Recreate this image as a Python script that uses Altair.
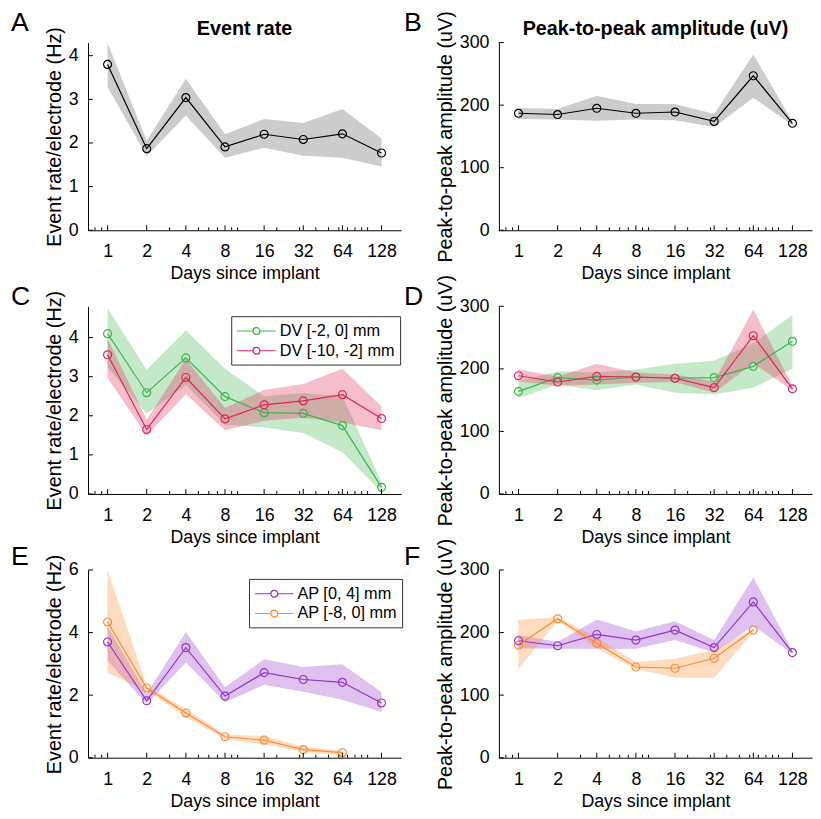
import altair as alt
import pandas as pd

FONT = "Liberation Sans"
W, H = 317, 190
XDOM = [2 ** -0.5, 2 ** 7.5]

days = [1, 2, 4, 8, 16, 32, 64, 128]
major_ticks = [1, 2, 4, 8, 16, 32, 64, 128]
minor_ticks = [0.8, 0.9, 3, 5, 6, 7, 9, 10, 20, 30, 40, 50, 60, 70, 80, 90, 100]

# Panel A: event rate, all electrodes
a_mean = [3.80, 1.87, 3.04, 1.91, 2.20, 2.08, 2.21, 1.77]
a_lo = [3.28, 1.70, 2.63, 1.66, 1.89, 1.71, 1.66, 1.46]
a_hi = [4.29, 2.05, 3.47, 2.20, 2.55, 2.46, 2.78, 2.10]

# Panel B: peak-to-peak amplitude, all electrodes
b_mean = [187, 185, 195, 187, 189, 174, 247, 171]
b_lo = [178, 177, 175, 177, 176, 165, 212, 168]
b_hi = [196, 194, 215, 202, 202, 186, 281, 174]

# Panel C: event rate by DV
dv_names = ["DV [-2, 0] mm", "DV [-10, -2] mm"]
dv_colors = ["#3db54a", "#e0245a"]
c1_mean = [4.10, 2.59, 3.48, 2.49, 2.08, 2.06, 1.75, 0.17]
c1_lo = [3.25, 2.05, 2.78, 1.78, 1.70, 1.56, 1.07, 0.05]
c1_hi = [4.75, 3.18, 4.19, 3.20, 2.50, 2.58, 2.50, 0.30]
c2_mean = [3.56, 1.65, 2.98, 1.92, 2.28, 2.38, 2.54, 1.93]
c2_lo = [2.97, 1.49, 2.55, 1.63, 1.87, 1.95, 1.83, 1.63]
c2_hi = [3.97, 1.90, 3.45, 2.20, 2.66, 2.81, 3.20, 2.24]

# Panel D: amplitude by DV
d1_mean = [164, 186, 182, 187, 185, 186, 204, 244]
d1_lo = [153, 175, 166, 175, 162, 159, 170, 200]
d1_hi = [180, 196, 194, 199, 208, 213, 241, 286]
d2_mean = [189, 179, 188, 187, 185, 170, 253, 168]
d2_lo = [180, 173, 175, 178, 179, 162, 209, 165]
d2_hi = [199, 188, 208, 194, 191, 180, 295, 173]

# Panel E: event rate by AP
ap_names = ["AP [0, 4] mm", "AP [-8, 0] mm"]
ap_colors = ["#9333c8", "#ff8a30"]
e1_mean = [3.70, 1.82, 3.52, 1.97, 2.72, 2.50, 2.41, 1.75]
e1_lo = [3.10, 1.72, 3.04, 1.77, 2.33, 2.11, 1.85, 1.46]
e1_hi = [4.20, 2.04, 4.02, 2.25, 3.15, 2.90, 2.99, 2.09]
e2_days = [1, 2, 4, 8, 16, 32, 64]
e2_mean = [4.34, 2.23, 1.43, 0.67, 0.56, 0.26, 0.16]
e2_lo = [2.72, 2.14, 1.30, 0.59, 0.43, 0.18, 0.09]
e2_hi = [6.00, 2.30, 1.56, 0.74, 0.69, 0.35, 0.22]

# Panel F: amplitude by AP
f1_mean = [187, 179, 197, 188, 204, 176, 249, 168]
f1_lo = [175, 174, 174, 174, 188, 168, 211, 166]
f1_hi = [196, 185, 221, 202, 218, 188, 288, 171]
f2_days = [1, 2, 4, 8, 16, 32, 64]
f2_mean = [180, 222, 183, 145, 143, 159, 204]
f2_lo = [142, 219, 175, 142, 128, 128, 200]
f2_hi = [220, 225, 192, 153, 158, 172, 207]

# legend glyph: line - open ring - line (ring made of two opposite-wound circles)
LEGEND_SYMBOL = ("M-1,0L0.78,0M1.56,0L3.33,0"
                 "M1.56,0A0.39,0.39,0,1,1,0.78,0A0.39,0.39,0,1,1,1.56,0Z"
                 "M1.55,0A0.38,0.38,0,1,0,0.79,0A0.38,0.38,0,1,0,1.55,0Z")


def frame(series_list):
    rows = []
    for name, d, m, lo, hi in series_list:
        for i in range(len(d)):
            rows.append({"series": name, "day": d[i], "mean": m[i], "lo": lo[i], "hi": hi[i]})
    return pd.DataFrame(rows)


def panel(df, ydom, yticks, ytitle, letter, ldx, ldy, header=None,
          names=None, colors=None, legend_xy=None):
    xs = alt.Scale(type="log", base=2, domain=XDOM, nice=False)
    xax = alt.Axis(values=major_ticks, format="d", title="Days since implant",
                   ticks=False, tickSize=0, grid=False, labelPadding=13,
                   titlePadding=4, domainColor="black", labelFlush=False,
                   labelOverlap=False)
    ys = alt.Scale(domain=ydom, nice=False, zero=False)
    yax = alt.Axis(values=yticks, title=ytitle, ticks=False, tickSize=0,
                   grid=False, labelPadding=10, titlePadding=4,
                   domainColor="black", labelOverlap=False, titleFontSize=20)

    def X(f="day"):
        return alt.X(f + ":Q", scale=xs, axis=xax)

    def Y(f):
        return alt.Y(f + ":Q", scale=ys, axis=yax)

    base = alt.Chart(df)
    if names is None:
        band = base.mark_area(color="#cccccc", opacity=1).encode(
            x=X(), y=Y("lo"), y2="hi:Q")
        line = base.mark_line(color="black", strokeWidth=1.2).encode(
            x=X(), y=Y("mean"))
        pts = base.mark_point(color="black", filled=False, size=65,
                              strokeWidth=1.2, opacity=1).encode(
            x=X(), y=Y("mean"))
    else:
        if legend_xy is not None:
            leg = alt.Legend(
                title=None, orient="none", legendX=legend_xy[0], legendY=legend_xy[1],
                fillColor="white", strokeColor="#333333", padding=5,
                labelFontSize=16.5, labelFont=FONT, labelColor="black",
                symbolType=LEGEND_SYMBOL, symbolSize=324, symbolStrokeWidth=1.2,
                symbolOpacity=1, labelOffset=24, rowPadding=1, cornerRadius=0)
        else:
            leg = None
        col = alt.Color("series:N", scale=alt.Scale(domain=names, range=colors),
                        legend=leg)
        band = base.mark_area(opacity=0.3).encode(
            x=X(), y=Y("lo"), y2="hi:Q", color=col)
        line = base.mark_line(strokeWidth=1.2).encode(
            x=X(), y=Y("mean"), color=col)
        pts = base.mark_point(filled=False, size=65, strokeWidth=1.2,
                              opacity=1).encode(
            x=X(), y=Y("mean"), color=col)

    majdf = pd.DataFrame({"day": major_ticks})
    mindf = pd.DataFrame({"day": [v for v in minor_ticks if XDOM[0] <= v <= XDOM[1]]})
    ytdf = pd.DataFrame({"v": yticks})
    maj = alt.Chart(majdf).mark_rule(color="black", strokeWidth=1).encode(
        x=X(), y=alt.value(H), y2=alt.value(H - 5))
    mino = alt.Chart(mindf).mark_rule(color="black", strokeWidth=1).encode(
        x=X(), y=alt.value(H), y2=alt.value(H - 3))
    ytk = alt.Chart(ytdf).mark_rule(color="black", strokeWidth=1).encode(
        y=Y("v"), x=alt.value(0), x2=alt.value(5))

    lab = alt.Chart(pd.DataFrame({"t": [letter]})).mark_text(
        align="left", baseline="alphabetic", fontSize=27, font=FONT,
        color="black").encode(text="t:N", x=alt.value(ldx), y=alt.value(ldy))

    layers = [band, line, pts, maj, mino, ytk, lab]
    if header:
        hd = alt.Chart(pd.DataFrame({"t": [header]})).mark_text(
            align="center", baseline="alphabetic", fontSize=20, font=FONT,
            fontWeight="bold", color="black").encode(
            text="t:N", x=alt.value(W / 2), y=alt.value(-8))
        layers.append(hd)
    return alt.layer(*layers).properties(width=W, height=H)


pA = panel(frame([("all", days, a_mean, a_lo, a_hi)]), [0, 4.3], [0, 1, 2, 3, 4],
           "Event rate/electrode (Hz)", "A", -78, -12, header="Event rate")
pB = panel(frame([("all", days, b_mean, b_lo, b_hi)]), [0, 300], [0, 100, 200, 300],
           "Peak-to-peak amplitude (uV)", "B", -96, -12,
           header="Peak-to-peak amplitude (uV)")
pC = panel(frame([(dv_names[0], days, c1_mean, c1_lo, c1_hi),
                  (dv_names[1], days, c2_mean, c2_lo, c2_hi)]),
           [0, 4.8], [0, 1, 2, 3, 4], "Event rate/electrode (Hz)", "C", -78, -1,
           names=dv_names, colors=dv_colors, legend_xy=(145, 10))
pD = panel(frame([(dv_names[0], days, d1_mean, d1_lo, d1_hi),
                  (dv_names[1], days, d2_mean, d2_lo, d2_hi)]),
           [0, 300], [0, 100, 200, 300], "Peak-to-peak amplitude (uV)", "D", -96, -1,
           names=dv_names, colors=dv_colors)
pE = panel(frame([(ap_names[0], days, e1_mean, e1_lo, e1_hi),
                  (ap_names[1], e2_days, e2_mean, e2_lo, e2_hi)]),
           [0, 6], [0, 2, 4, 6], "Event rate/electrode (Hz)", "E", -78, -5,
           names=ap_names, colors=ap_colors, legend_xy=(163, 9))
pF = panel(frame([(ap_names[0], days, f1_mean, f1_lo, f1_hi),
                  (ap_names[1], f2_days, f2_mean, f2_lo, f2_hi)]),
           [0, 300], [0, 100, 200, 300], "Peak-to-peak amplitude (uV)", "F", -96, -5,
           names=ap_names, colors=ap_colors)

chart = alt.concat(pA, pB, pC, pD, pE, pF, columns=2, bounds="flush",
                   spacing={"row": 77, "column": 99}).resolve_scale(
    color="independent", x="independent", y="independent"
).properties(
    padding={"left": 2, "top": -5, "right": 0, "bottom": 0}
).configure(font=FONT).configure_view(stroke="transparent").configure_axis(
    labelFontSize=18, titleFontSize=18, labelColor="black", titleColor="black",
    titleFontWeight="normal", labelFont=FONT, titleFont=FONT, domainWidth=1
)

chart.save("out.html", embed_options={"renderer": "svg", "actions": False})
